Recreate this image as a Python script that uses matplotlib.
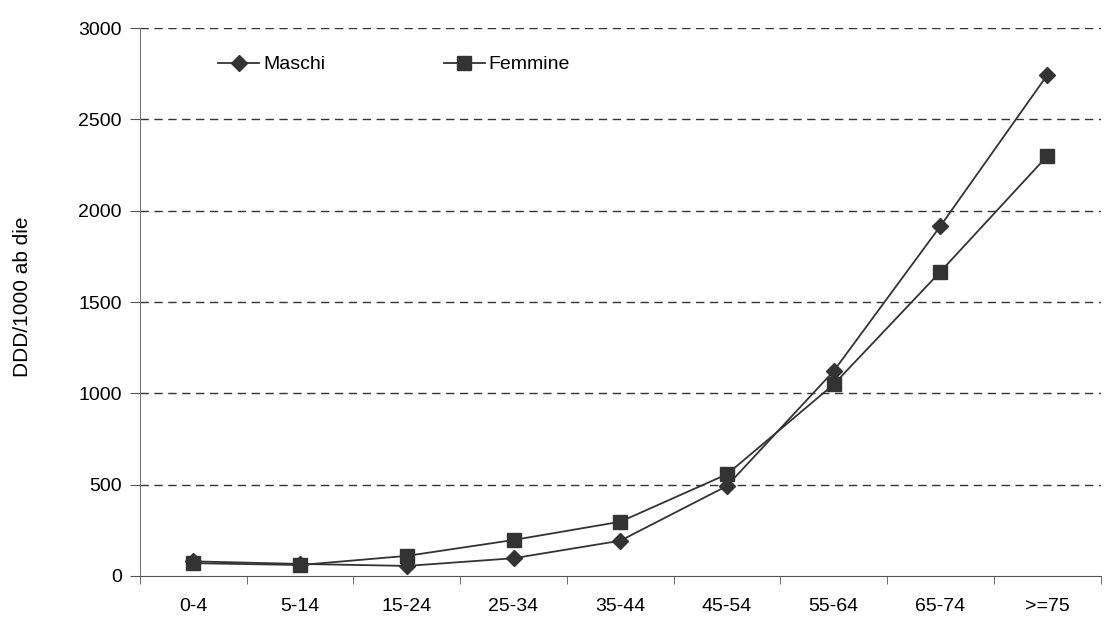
import matplotlib.pyplot as plt
import numpy as np

plt.rcParams['font.family'] = ['Liberation Sans', 'DejaVu Sans']

categories = ['0-4', '5-14', '15-24', '25-34', '35-44', '45-54', '55-64', '65-74', '>=75']
maschi = [80, 66, 55, 97, 193, 493, 1122, 1916, 2742]
femmine = [70, 60, 110, 197, 297, 557, 1049, 1666, 2299]

fig = plt.figure(figsize=(11.15, 6.17), dpi=100)
ax = fig.add_axes([0.1256, 0.0665, 0.8614, 0.888])

x = np.arange(len(categories))
ax.plot(x, maschi, color='#333333', lw=1.3, marker='D', ms=8.5, label='Maschi')
ax.plot(x, femmine, color='#333333', lw=1.3, marker='s', ms=10, label='Femmine')

ax.set_xlim(-0.5, len(categories) - 0.5)
ax.set_ylim(0, 3000)
ax.set_yticks(np.arange(0, 3001, 500))
ax.set_xticks(x)
ax.set_xticklabels(categories, fontsize=14)
ax.set_xticks(np.arange(-0.5, len(categories)), minor=True)
ax.tick_params(axis='x', which='major', length=0, pad=16)
ax.tick_params(axis='x', which='minor', length=6, color='#555555', direction='out')
ax.tick_params(axis='y', labelsize=14, length=7, color='#555555', pad=6)

for v in np.arange(500, 3001, 500):
    ax.axhline(v, color='#333333', lw=1, ls=(0, (6, 4)), zorder=0)

for s in ['top', 'right']:
    ax.spines[s].set_visible(False)
ax.spines['left'].set_color('#777777')
ax.spines['bottom'].set_color('#555555')

ax.set_ylabel('DDD/1000 ab die', fontsize=15, va='center')
ax.yaxis.set_label_coords(-0.122, 0.509)

ax.legend(loc='upper left', bbox_to_anchor=(0.0815, 0.9495), ncol=2, frameon=False,
          fontsize=14, handlelength=2.1, handletextpad=0.2, columnspacing=6.1,
          borderaxespad=0, borderpad=0)

fig.savefig('out.png')
